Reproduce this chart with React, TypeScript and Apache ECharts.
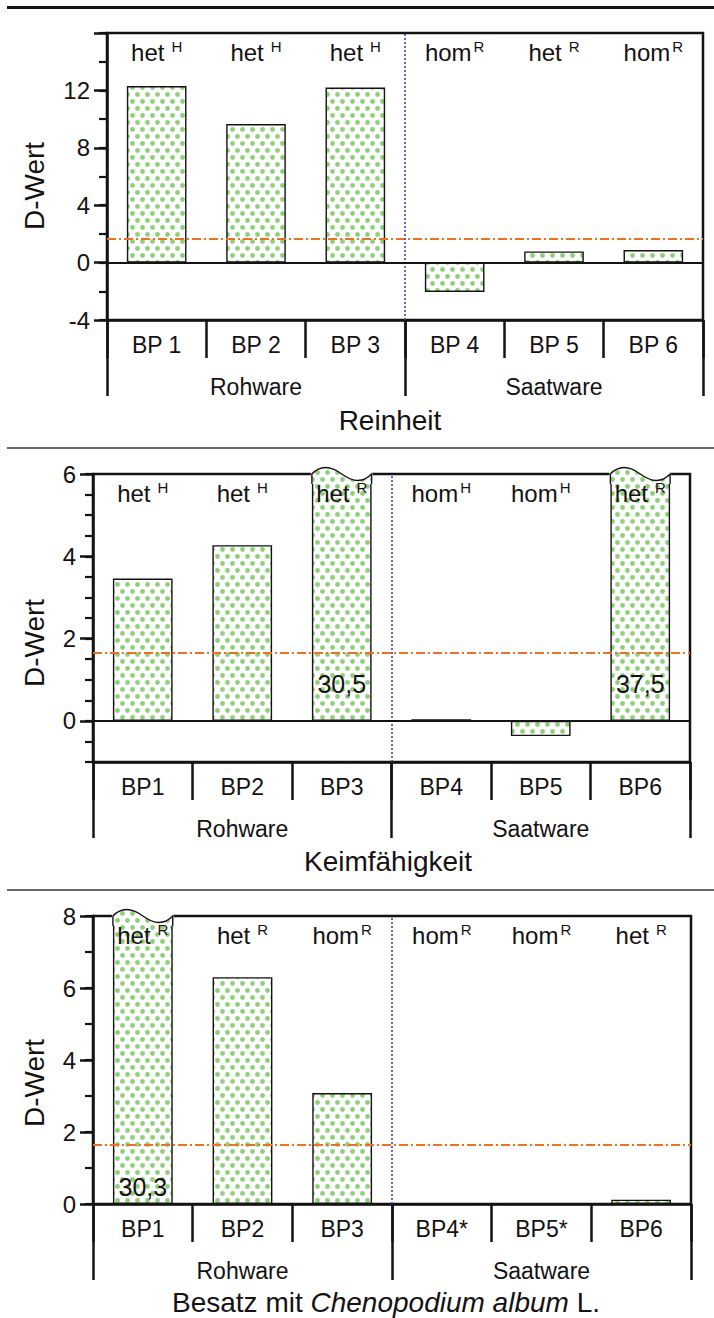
import React, { useEffect, useRef } from 'react';
import * as echarts from 'echarts';

// ---- categories ----
const reinheitCategories = ['BP 1', 'BP 2', 'BP 3', 'BP 4', 'BP 5', 'BP 6'];
const keimCategories = ['BP1', 'BP2', 'BP3', 'BP4', 'BP5', 'BP6'];
const besatzCategories = ['BP1', 'BP2', 'BP3', 'BP4*', 'BP5*', 'BP6'];
const groupCategories = ['Rohware', 'Saatware'];

// ---- D-values ----
const reinheitValues = [12.3, 9.65, 12.2, -2.05, 0.78, 0.87];
const keimValues = [3.46, 4.27, 30.5, 0.04, -0.37, 37.5];
const besatzValues = [30.3, 6.3, 3.08, 0, 0, 0.12];

// ---- genotype annotations (status + superscript origin) ----
const reinheitStatus = ['het', 'het', 'het', 'hom', 'het', 'hom'];
const reinheitOrigin = ['H', 'H', 'H', 'R', 'R', 'R'];
const keimStatus = ['het', 'het', 'het', 'hom', 'hom', 'het'];
const keimOrigin = ['H', 'H', 'R', 'H', 'H', 'R'];
const besatzStatus = ['het', 'het', 'hom', 'hom', 'hom', 'het'];
const besatzOrigin = ['R', 'R', 'R', 'R', 'R', 'R'];

// ---- axis ticks ----
const reinheitMajorTicks = [-4, 0, 4, 8, 12, 16];
const reinheitTickLabels = [-4, 0, 4, 8, 12];
const keimMajorTicks = [0, 2, 4, 6];
const keimTickLabels = [0, 2, 4, 6];
const besatzMajorTicks = [0, 2, 4, 6, 8];
const besatzTickLabels = [0, 2, 4, 6, 8];

// critical D-value
const threshold = 1.65;

const titles = ['Reinheit', 'Keimfähigkeit'];
const besatzTitle = ['Besatz mit ', 'Chenopodium album', ' L.'];
const yName = 'D-Wert';

const INK = '#151213';
const FONT = '"Liberation Sans", Arial, Helvetica, sans-serif';

function makeDotTile(): HTMLCanvasElement {
  const c = document.createElement('canvas');
  c.width = 10;
  c.height = 14;
  const ctx = c.getContext('2d') as CanvasRenderingContext2D;
  ctx.fillStyle = '#ffffff';
  ctx.fillRect(0, 0, 10, 14);
  ctx.fillStyle = '#92cf7c';
  const pts = [
    [2.5, 3.5],
    [7.5, 10.5],
  ];
  for (const [x, y] of pts) {
    ctx.beginPath();
    ctx.arc(x, y, 2.45, 0, Math.PI * 2);
    ctx.fill();
  }
  return c;
}

type Panel = {
  categories: string[];
  values: number[];
  status: string[];
  origin: string[];
  yMin: number;
  yMax: number;
  minorStep: number;
  majorTicks: number[];
  tickLabels: number[];
  grid: { left: number; top: number; width: number; height: number };
  valueLabelDistance: number;
};

const panels: Panel[] = [
  {
    categories: reinheitCategories,
    values: reinheitValues,
    status: reinheitStatus,
    origin: reinheitOrigin,
    yMin: -4,
    yMax: 16,
    minorStep: 2,
    majorTicks: reinheitMajorTicks,
    tickLabels: reinheitTickLabels,
    grid: { left: 107, top: 33, width: 596, height: 287 },
    valueLabelDistance: 24,
  },
  {
    categories: keimCategories,
    values: keimValues,
    status: keimStatus,
    origin: keimOrigin,
    yMin: -1,
    yMax: 6,
    minorStep: 0.5,
    majorTicks: keimMajorTicks,
    tickLabels: keimTickLabels,
    grid: { left: 93, top: 474, width: 597, height: 288 },
    valueLabelDistance: 24,
  },
  {
    categories: besatzCategories,
    values: besatzValues,
    status: besatzStatus,
    origin: besatzOrigin,
    yMin: 0,
    yMax: 8,
    minorStep: 1,
    majorTicks: besatzMajorTicks,
    tickLabels: besatzTickLabels,
    grid: { left: 93, top: 916, width: 598, height: 288 },
    valueLabelDistance: 5,
  },
];

export default function App() {
  const ref = useRef<HTMLDivElement>(null);

  useEffect(() => {
    if (!ref.current) return;
    const chart = echarts.init(ref.current, null, { renderer: 'svg' });
    const tile = makeDotTile();
    const dots: any = {
      image: tile,
      repeat: 'repeat',
      imageWidth: tile.width,
      imageHeight: tile.height,
    };

    const grids: any[] = [];
    const xAxes: any[] = [];
    const yAxes: any[] = [];
    const series: any[] = [];

    panels.forEach((p, k) => {
      grids.push({
        ...p.grid,
        show: true,
        borderColor: INK,
        borderWidth: 2.5,
        backgroundColor: 'transparent',
        containLabel: false,
      });

      // sample axis (BP)
      xAxes.push({
        type: 'category',
        gridIndex: k,
        data: p.categories,
        position: 'bottom',
        boundaryGap: true,
        axisLine: { show: true, onZero: false, lineStyle: { color: INK, width: 2.5 } },
        axisTick: { show: true, length: 38, lineStyle: { color: INK, width: 2.5 } },
        axisLabel: { margin: 13, fontSize: 23, fontFamily: FONT, color: INK },
        splitLine: { show: false },
      });
      // group axis (Rohware / Saatware)
      xAxes.push({
        type: 'category',
        gridIndex: k,
        data: groupCategories,
        position: 'bottom',
        boundaryGap: true,
        axisLine: { show: false, onZero: false },
        axisTick: { show: true, length: 76, lineStyle: { color: INK, width: 2.5 } },
        axisLabel: { margin: 55, fontSize: 23, fontFamily: FONT, color: INK },
        splitLine: { show: false },
      });
      // hidden continuous axis for the group separator
      xAxes.push({
        type: 'value',
        gridIndex: k,
        min: 0,
        max: p.categories.length,
        show: false,
      });

      // major ticks + labels
      yAxes.push({
        type: 'value',
        gridIndex: k,
        position: 'left',
        min: p.yMin,
        max: p.yMax,
        interval: p.minorStep,
        axisLine: { show: true, onZero: false, lineStyle: { color: INK, width: 2.5 } },
        axisTick: {
          show: true,
          length: 13,
          customValues: p.majorTicks,
          lineStyle: { color: INK, width: 2.5 },
        },
        axisLabel: {
          show: true,
          customValues: p.tickLabels,
          margin: 17,
          fontSize: 24,
          fontFamily: FONT,
          color: INK,
        },
        splitLine: { show: false },
      });
      // minor ticks
      yAxes.push({
        type: 'value',
        gridIndex: k,
        position: 'left',
        min: p.yMin,
        max: p.yMax,
        interval: p.minorStep,
        axisLine: { show: false, onZero: false },
        axisTick: { show: true, length: 8, lineStyle: { color: INK, width: 2.2 } },
        axisLabel: { show: false },
        splitLine: { show: false },
      });

      const xCat = k * 3;
      const xVal = k * 3 + 2;
      const yMain = k * 2;

      series.push({
        type: 'bar',
        xAxisIndex: xCat,
        yAxisIndex: yMain,
        barWidth: '60%',
        clip: true,
        z: 2,
        data: p.values.map((v) => ({ value: v, label: { show: v > p.yMax } })),
        itemStyle: { color: dots, borderColor: INK, borderWidth: 1.4 },
        label: {
          show: false,
          position: 'insideBottom',
          distance: p.valueLabelDistance,
          fontSize: 25,
          fontFamily: FONT,
          color: INK,
          formatter: (d: any) => String(d.value).replace('.', ','),
        },
      });

      // wavy break mark on bars that exceed the axis
      series.push({
        type: 'custom',
        xAxisIndex: xCat,
        yAxisIndex: yMain,
        z: 3,
        clip: false,
        data: p.values.map((v, i) => [i, v]),
        renderItem: (params: any, api: any) => {
          const v = api.value(1);
          if (v <= p.yMax) return { type: 'group', children: [] };
          const top = api.coord([api.value(0), p.yMax]);
          const w = api.size([1, 0])[0] * 0.6;
          const x0 = top[0] - w / 2;
          const x1 = top[0] + w / 2;
          const y = top[1];
          const d = 10;
          const wave =
            `C${x0 + 0.16 * w} ${y - 10} ${x0 + 0.34 * w} ${y - 7} ${x0 + 0.5 * w} ${y} ` +
            `C${x0 + 0.66 * w} ${y + 7} ${x0 + 0.84 * w} ${y + 10} ${x1} ${y}`;
          return {
            type: 'group',
            children: [
              {
                type: 'rect',
                shape: { x: x0 - 1, y: y - 3, width: w + 2, height: d + 3 },
                style: { fill: '#ffffff' },
              },
              {
                type: 'path',
                shape: { pathData: `M${x0} ${y + d} L${x0} ${y} ${wave} L${x1} ${y + d} Z` },
                style: { fill: dots },
              },
              {
                type: 'path',
                shape: { pathData: `M${x0} ${y + d} L${x0} ${y} ${wave} L${x1} ${y + d}` },
                style: { fill: 'none', stroke: INK, lineWidth: 1.4 },
              },
            ],
          };
        },
      });

      // genotype annotations along the top of the plot
      series.push({
        type: 'custom',
        xAxisIndex: xCat,
        yAxisIndex: yMain,
        z: 6,
        clip: false,
        data: p.categories.map((_, i) => [i, p.yMax]),
        renderItem: (params: any, api: any) => {
          const i = params.dataIndex;
          const pt = api.coord([api.value(0), api.value(1)]);
          const st = p.status[i];
          return {
            type: 'text',
            x: pt[0],
            y: pt[1] + 19,
            style: {
              text: `{m|${st}}{s|${p.origin[i]}}`,
              textAlign: 'center',
              textVerticalAlign: 'middle',
              rich: {
                m: { fontSize: 24, fontFamily: FONT, fill: INK, color: INK, lineHeight: 26 },
                s: {
                  fontSize: 15,
                  fontFamily: FONT,
                  fill: INK,
                  color: INK,
                  verticalAlign: 'top',
                  lineHeight: 16,
                  padding: [0, 0, 0, st === 'het' ? 7 : 2],
                },
              },
            },
          };
        },
      });

      // reference lines: critical value, group separator, zero line
      const lines: any[] = [
        { yAxis: threshold, lineStyle: { color: '#f0701f', width: 2, type: [9, 3, 2, 3] } },
        { xAxis: 3, lineStyle: { color: '#5437a8', width: 1.6, type: [2, 2] } },
      ];
      if (p.yMin < 0) {
        lines.push({ yAxis: 0, lineStyle: { color: INK, width: 2.2, type: 'solid' } });
      }
      series.push({
        type: 'line',
        xAxisIndex: xVal,
        yAxisIndex: yMain,
        data: [],
        z: 5,
        markLine: {
          silent: true,
          symbol: ['none', 'none'],
          label: { show: false },
          data: lines,
        },
      });
    });

    const titleFont = { fontSize: 28, fontFamily: FONT, fill: INK };

    const graphic: any[] = [
      { type: 'line', silent: true, shape: { x1: 7, y1: 7.5, x2: 714, y2: 7.5 }, style: { stroke: INK, lineWidth: 3 } },
      { type: 'line', silent: true, shape: { x1: 7, y1: 448, x2: 714, y2: 448 }, style: { stroke: '#3a3431', lineWidth: 1.5 } },
      { type: 'line', silent: true, shape: { x1: 7, y1: 890, x2: 714, y2: 890 }, style: { stroke: '#3a3431', lineWidth: 1.5 } },
      {
        type: 'text', silent: true, x: 390, y: 420,
        style: { text: titles[0], ...titleFont, textAlign: 'center', textVerticalAlign: 'middle' },
      },
      {
        type: 'text', silent: true, x: 388, y: 861,
        style: { text: titles[1], ...titleFont, textAlign: 'center', textVerticalAlign: 'middle' },
      },
      {
        type: 'text', silent: true, x: 386, y: 1302,
        style: {
          text: `{n|${besatzTitle[0]}}{i|${besatzTitle[1]}}{n|${besatzTitle[2]}}`,
          textAlign: 'center',
          textVerticalAlign: 'middle',
          rich: {
            n: { ...titleFont },
            i: { ...titleFont, fontStyle: 'italic' },
          },
        },
      },
    ];
    [186, 643, 1083].forEach((cy) => {
      graphic.push({
        type: 'text', silent: true, x: 34, y: cy, rotation: Math.PI / 2,
        style: { text: yName, ...titleFont, textAlign: 'center', textVerticalAlign: 'middle' },
      });
    });

    chart.setOption({
      animation: false,
      backgroundColor: '#ffffff',
      grid: grids,
      xAxis: xAxes,
      yAxis: yAxes,
      series,
      graphic,
    });

    return () => chart.dispose();
  }, []);

  return (
    <div
      ref={ref}
      style={{ position: 'absolute', left: 0, top: 0, width: 714, height: 1318, background: '#fff' }}
    />
  );
}
